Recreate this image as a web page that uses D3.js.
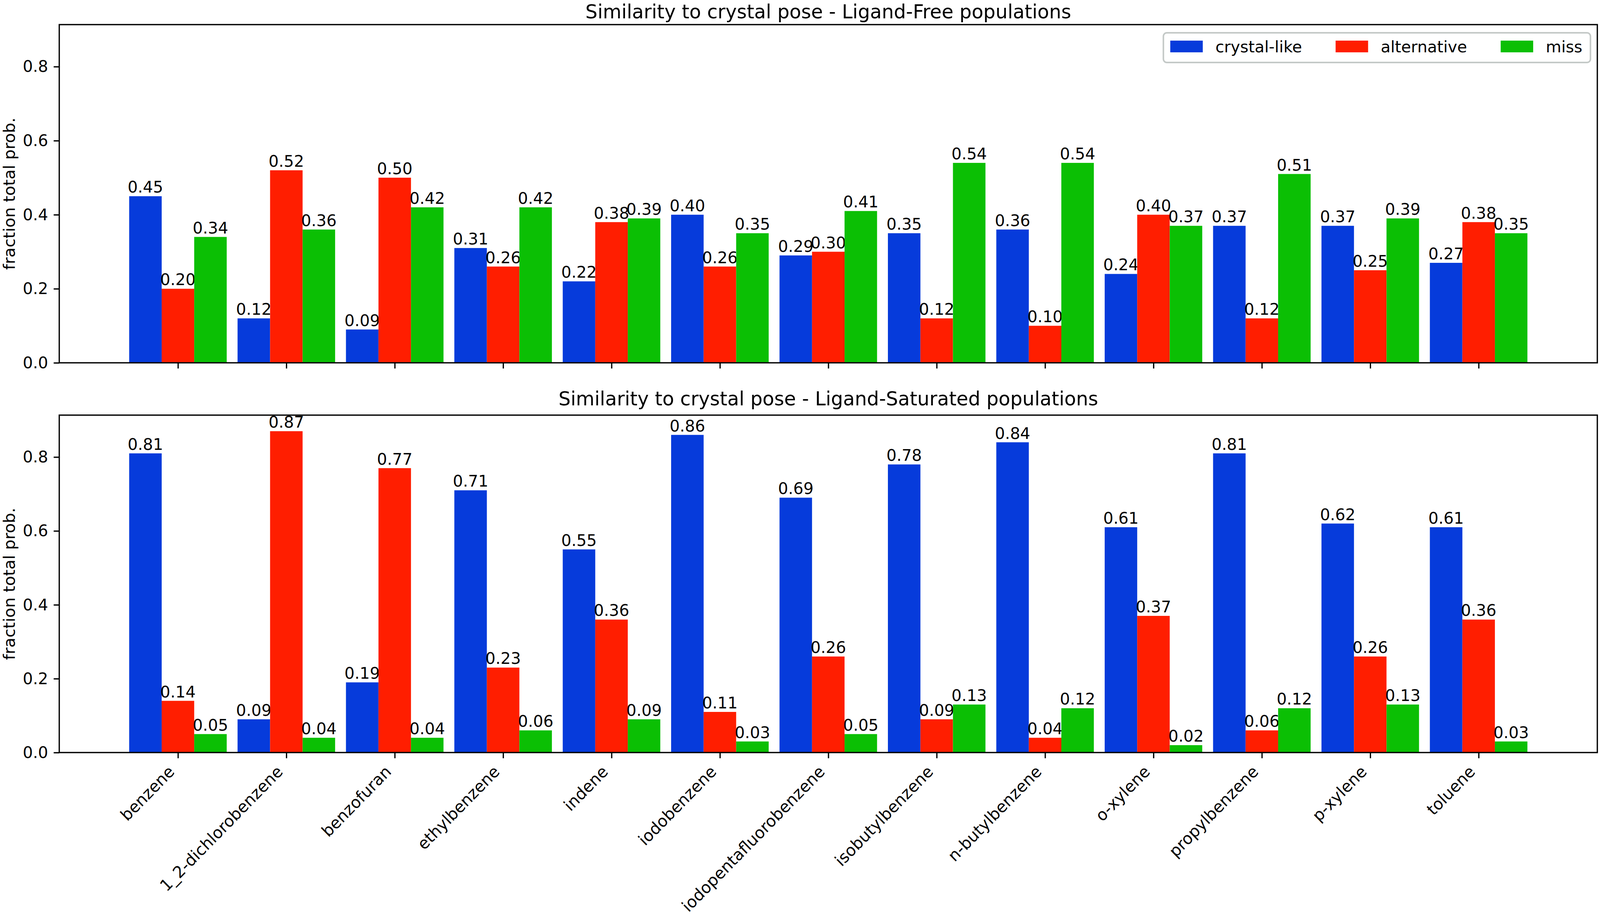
<!DOCTYPE html>
<html>
<head>
<meta charset="utf-8">
<script src="https://cdn.jsdelivr.net/npm/d3@7"></script>
<style>
  html, body { margin: 0; padding: 0; background: #fff; overflow: hidden; }
  svg { display: block; width: 100vw; height: 100vh; font-family: "DejaVu Sans", sans-serif; }
</style>
</head>
<body>
<svg id="chart"></svg>
<script>
const categories = ["benzene", "1_2-dichlorobenzene", "benzofuran", "ethylbenzene", "indene",
    "iodobenzene", "iodopentafluorobenzene", "isobutylbenzene", "n-butylbenzene", "o-xylene",
    "propylbenzene", "p-xylene", "toluene"];
const seriesNames = ["crystal-like", "alternative", "miss"];
const seriesColors = ["#063bdb", "#ff1e00", "#0bbf04"];

// Ligand-Free
const freeCrystal = [0.45, 0.12, 0.09, 0.31, 0.22, 0.40, 0.29, 0.35, 0.36, 0.24, 0.37, 0.37, 0.27];
const freeAlt     = [0.20, 0.52, 0.50, 0.26, 0.38, 0.26, 0.30, 0.12, 0.10, 0.40, 0.12, 0.25, 0.38];
const freeMiss    = [0.34, 0.36, 0.42, 0.42, 0.39, 0.35, 0.41, 0.54, 0.54, 0.37, 0.51, 0.39, 0.35];

// Ligand-Saturated
const satCrystal = [0.81, 0.09, 0.19, 0.71, 0.55, 0.86, 0.69, 0.78, 0.84, 0.61, 0.81, 0.62, 0.61];
const satAlt     = [0.14, 0.87, 0.77, 0.23, 0.36, 0.11, 0.26, 0.09, 0.04, 0.37, 0.06, 0.26, 0.36];
const satMiss    = [0.05, 0.04, 0.04, 0.06, 0.09, 0.03, 0.05, 0.13, 0.12, 0.02, 0.12, 0.13, 0.03];

const yTicks = [0.0, 0.2, 0.4, 0.6, 0.8];

const W = 4185, H = 2343;
const fs = 41.7, titleFs = 50;
const lw = 3.33, tickLen = 14.6, tickPad = 14.6;
const barW = 0.3, offsets = [-0.3, 0, 0.3];

// fixed drawing space, stretched to whatever the viewport is
const svg = d3.select("#chart")
    .attr("viewBox", `0 0 ${W} ${H}`)
    .attr("preserveAspectRatio", "none");

const lo = -0.45, hi = categories.length - 1 + 0.45;
const pad = (hi - lo) * 0.05;
const x = d3.scaleLinear().domain([lo - pad, hi + pad]).range([155, 4178]);

const yMax = d3.max([...freeCrystal, ...freeAlt, ...freeMiss, ...satCrystal, ...satAlt, ...satMiss]) * 1.05;

const panels = [
    { title: "Similarity to crystal pose - Ligand-Free populations", top: 63, bottom: 929,
      series: [freeCrystal, freeAlt, freeMiss], labels: false, legend: true },
    { title: "Similarity to crystal pose - Ligand-Saturated populations", top: 1063, bottom: 1927,
      series: [satCrystal, satAlt, satMiss], labels: true, legend: false }
];

panels.forEach(p => {
    const y = d3.scaleLinear().domain([0, yMax]).range([p.bottom, p.top]);
    const g = svg.append("g");

    // bars
    p.series.forEach((vals, s) => {
        g.selectAll(".bar" + s)
            .data(vals)
            .enter().append("rect")
            .attr("x", (d, i) => x(i + offsets[s] - barW / 2))
            .attr("y", d => y(d))
            .attr("width", (d, i) => x(i + offsets[s] + barW / 2) - x(i + offsets[s] - barW / 2))
            .attr("height", d => y(0) - y(d))
            .attr("fill", seriesColors[s]);

        g.selectAll(".lbl" + s)
            .data(vals)
            .enter().append("text")
            .attr("x", (d, i) => x(i + offsets[s]))
            .attr("y", d => y(d) - 9)
            .attr("text-anchor", "middle")
            .attr("font-size", fs)
            .text(d => d.toFixed(2));
    });

    // y axis
    const ya = g.append("g")
        .attr("transform", `translate(${x.range()[0]},0)`)
        .call(d3.axisLeft(y).tickValues(yTicks).tickFormat(d3.format(".1f"))
            .tickSize(tickLen).tickPadding(tickPad));
    ya.select(".domain").remove();
    ya.selectAll("line").attr("stroke-width", lw);
    ya.selectAll("text").attr("font-size", fs).attr("font-family", "DejaVu Sans").attr("fill", "#000");

    // x axis
    const xa = g.append("g")
        .attr("transform", `translate(0,${p.bottom})`)
        .call(d3.axisBottom(x).tickValues(d3.range(categories.length))
            .tickFormat(i => p.labels ? categories[i] : "")
            .tickSize(tickLen).tickPadding(tickPad));
    xa.select(".domain").remove();
    xa.selectAll("line").attr("stroke-width", lw);
    xa.selectAll("text")
        .attr("font-size", fs).attr("font-family", "DejaVu Sans").attr("fill", "#000")
        .attr("y", null).attr("dy", null)
        .attr("text-anchor", "end")
        .attr("transform", `translate(${-0.707 * 0.24 * fs},${tickLen + tickPad + 0.707 * 0.76 * fs}) rotate(-45)`);

    // frame
    g.append("rect")
        .attr("x", x.range()[0]).attr("y", p.top)
        .attr("width", x.range()[1] - x.range()[0]).attr("height", p.bottom - p.top)
        .attr("fill", "none").attr("stroke", "#000").attr("stroke-width", lw);

    // title
    g.append("text")
        .attr("x", (x.range()[0] + x.range()[1]) / 2)
        .attr("y", Math.max(p.top - 25, 47))
        .attr("text-anchor", "middle")
        .attr("font-size", titleFs)
        .text(p.title);

    // y label
    g.append("text")
        .attr("transform", `translate(39,${(p.top + p.bottom) / 2}) rotate(-90)`)
        .attr("text-anchor", "middle")
        .attr("font-size", fs)
        .text("fraction total prob.");

    if (p.legend) {
        const lg = svg.append("g");
        lg.append("rect")
            .attr("x", 3043).attr("y", 84).attr("width", 1117).attr("height", 76)
            .attr("rx", 9).attr("fill", "#fff").attr("fill-opacity", 0.8)
            .attr("stroke", "#c4c9c7").attr("stroke-width", 4);
        let cx = 3061;
        seriesNames.forEach((name, s) => {
            lg.append("rect")
                .attr("x", cx).attr("y", 104).attr("width", 85).attr("height", 30)
                .attr("fill", seriesColors[s]);
            const t = lg.append("text")
                .attr("x", cx + 85 + 33).attr("y", 134)
                .attr("font-size", fs)
                .text(name);
            cx = cx + 85 + 33 + t.node().getComputedTextLength() + 88;
        });
    }
});
</script>
</body>
</html>
